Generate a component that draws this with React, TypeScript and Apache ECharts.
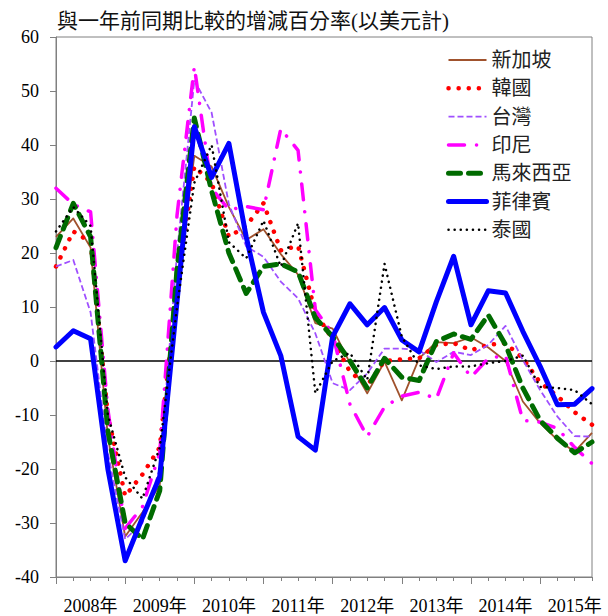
import React, { useEffect, useRef } from 'react';
import * as echarts from 'echarts';

const years = ['2008年', '2009年', '2010年', '2011年', '2012年', '2013年', '2014年', '2015年'];
const quarters = years.flatMap((y) => ['Q1', 'Q2', 'Q3', 'Q4'].map((q) => y + q));

const yTicks = { min: -40, max: 60, interval: 10 };

const singapore = [23, 26.4, 21, -14, -32.5, -28, -23, 14, 38, 36, 28.5, 22.4, 24.4, 19.8, 16, 7, 6, -0.4, -6, -0.1, -7.3, 0.5, 3.5, 3.3, 4.4, 2.5, 0, -7.5, -11.5, -14.6, -16.8, -13.3];
const korea = [17.5, 24, 22, -10, -25, -21, -16, 14, 36, 33, 23, 25, 29.2, 20.5, 21.3, 9, 4, -2, -4.5, 0, 0.3, 0.5, 3, 3.3, 2, 3, 3.3, 0.5, -4, -6.5, -9.5, -11.8];
const taiwan = [17.5, 18.7, 9, -17, -33, -30, -20, 20, 52, 46, 29, 21.2, 19.3, 14.7, 11.6, 5.1, -4.1, -5.4, -2.3, 2.3, 2.3, 2, -0.2, 1.7, 1.1, 3, 6.5, 0.2, -5.4, -10.3, -13.9, -14];
const indonesia = [32, 29, 27.6, -9, -31, -27, -17, 27, 54.5, 32, 28, 28.6, 28, 43, 39, 9.5, 5, -8, -14, -8.5, -6.5, -5.8, -7, 1.5, -3, 0.5, 1, -11, -11.3, -12.5, -16, -19];
const malaysia = [21, 29.2, 23, -13, -30, -33, -24, 17, 45, 31.5, 20, 12.5, 17.5, 18, 16.5, 8, 4.5, 0, -5, 0.5, -3, -3.6, 3.6, 5, 4, 8.5, 3, -5, -11, -14.3, -17, -15];
const philippines = [2.6, 5.6, 4.1, -20, -37, -29, -21.4, 11, 43.4, 34, 40.3, 23, 9, 1, -14, -16.5, 4.5, 10.6, 6.7, 9.9, 3.9, 1.7, 11, 19.4, 6.7, 13, 12.6, 5.5, -1, -8.1, -8, -5.1];
const thailand = [24, 28.5, 25, -10, -21.5, -25.5, -16, 10, 33, 40, 22, 19, 26, 17.5, 25.5, -6, 0, 1.5, -3.5, 18, 4.5, -0.8, -1.5, -1, -1, -0.4, 0, 1, -4.8, -5, -5.4, -8];

const titleText = '與一年前同期比較的增減百分率(以美元計)';

const FONT = "'Liberation Serif', 'Noto Sans CJK TC', serif";

const seriesDefs = [
  { name: '新加坡', data: singapore, color: '#A0522D', width: 1.8, type: 'solid', cap: 'butt' },
  { name: '韓國', data: korea, color: '#FF0000', width: 4.5, type: [0.1, 10], cap: 'round' },
  { name: '台灣', data: taiwan, color: '#9F4FFF', width: 1.8, type: [6, 3], cap: 'butt' },
  { name: '印尼', data: indonesia, color: '#FF00FF', width: 3.5, type: [16, 12, 0.1, 12], cap: 'round' },
  { name: '馬來西亞', data: malaysia, color: '#006B00', width: 5, type: [12, 8], cap: 'round' },
  { name: '菲律賓', data: philippines, color: '#0000FF', width: 5, type: 'solid', cap: 'round' },
  { name: '泰國', data: thailand, color: '#000000', width: 2.5, type: [0.1, 6], cap: 'round' },
];

export default function App() {
  const ref = useRef<HTMLDivElement>(null);
  useEffect(() => {
    if (!ref.current) return;
    const chart = echarts.init(ref.current, undefined, { renderer: 'svg' });
    const series: any[] = seriesDefs.map((s, i) => ({
      name: s.name,
      type: 'line',
      data: s.data,
      symbol: 'none',
      showSymbol: false,
      lineStyle: { color: s.color, width: s.width, type: s.type, cap: s.cap, join: 'round' },
      itemStyle: { color: s.color },
      z: 3,
      ...(i === 0
        ? {
            markLine: {
              silent: true,
              symbol: ['none', 'none'],
              label: { show: false },
              lineStyle: { color: '#000', width: 1.5, type: 'solid' },
              data: [{ yAxis: 0 }],
              z: 1,
            },
          }
        : {}),
    }));
    chart.setOption({
      animation: false,
      backgroundColor: '#fff',
      grid: {
        left: 56,
        right: 16,
        top: 37,
        bottom: 39,
        show: true,
        borderColor: '#808080',
        borderWidth: 1,
        containLabel: false,
      },
      graphic: [
        {
          type: 'text',
          left: 57,
          top: 10,
          style: { text: titleText, fontSize: 21, fontFamily: FONT, fill: '#111' },
        },
      ],
      legend: {
        orient: 'vertical',
        left: 446,
        top: 50,
        padding: 0,
        itemWidth: 38,
        itemHeight: 14,
        itemGap: 8.3,
        itemStyle: { opacity: 0 },
        data: seriesDefs.map((s) => ({
          name: s.name,
          lineStyle: { color: s.color, width: s.width, type: s.type, cap: s.cap },
        })),
        textStyle: { fontSize: 20, lineHeight: 20, fontFamily: FONT, color: '#222' },
      },
      xAxis: [
        {
          type: 'category',
          data: quarters,
          boundaryGap: false,
          position: 'bottom',
          axisLine: { show: true, onZero: false, lineStyle: { color: '#808080', width: 1 } },
          axisTick: { show: true, interval: 0, length: 4, lineStyle: { color: '#808080' } },
          axisLabel: {
            interval: (index: number) => index % 4 === 2,
            formatter: (v: string) => v.slice(0, 5),
            fontSize: 18,
            fontFamily: FONT,
            color: '#000',
            margin: 20,
          },
          splitLine: { show: false },
        },
        {
          type: 'category',
          data: quarters,
          boundaryGap: false,
          position: 'bottom',
          axisLine: { show: false, onZero: false },
          axisTick: {
            show: true,
            interval: (index: number) => index % 4 === 0,
            length: 7,
            lineStyle: { color: '#808080' },
          },
          axisLabel: { show: false },
          splitLine: { show: false },
        },
      ],
      yAxis: {
        type: 'value',
        min: yTicks.min,
        max: yTicks.max,
        interval: yTicks.interval,
        axisLine: { show: true, lineStyle: { color: '#808080' } },
        axisTick: { show: true, length: 6, lineStyle: { color: '#808080' } },
        axisLabel: { fontSize: 18, fontFamily: FONT, color: '#000', margin: 17 },
        splitLine: { show: false },
      },
      series,
    });
    return () => chart.dispose();
  }, []);
  return (
    <div
      ref={ref}
      style={{ position: 'fixed', left: 0, top: 0, width: 608, height: 616 }}
    />
  );
}
